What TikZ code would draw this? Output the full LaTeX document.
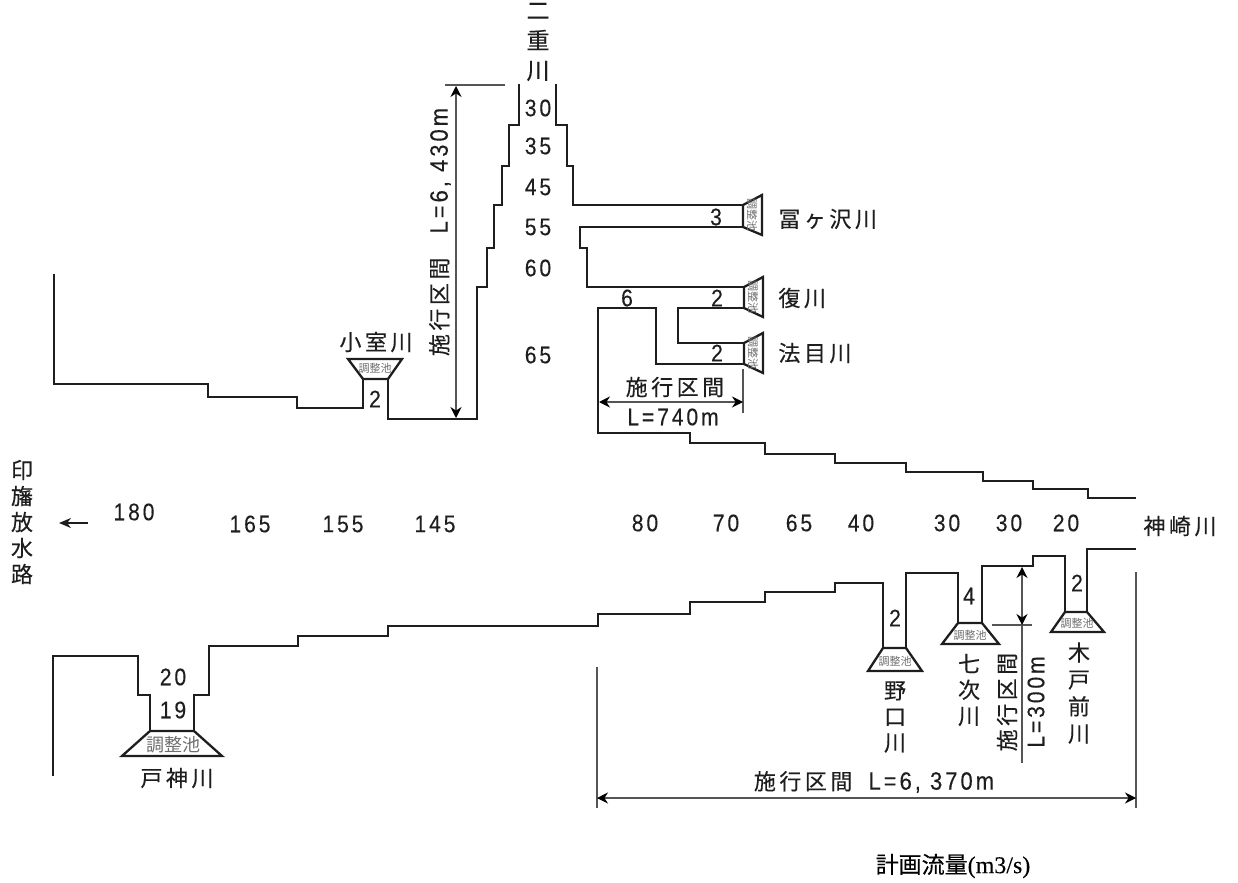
\documentclass[tikz,border=0pt]{standalone}
\usepackage{fontspec}
\usepackage{xcolor}
\usetikzlibrary{arrows.meta}
\setmainfont{Liberation Sans}
\newfontfamily\jpfont[LetterSpace=16,FakeBold=0.3]{Noto Sans CJK JP}
\newfontfamily\jpplain[FakeBold=0.3]{Noto Sans CJK JP}
\newfontfamily\jpthin{Noto Sans CJK JP}
\newfontfamily\numfont[LetterSpace=12,FakeStretch=0.88,FakeBold=0.2]{Liberation Sans}
\newfontfamily\serfont[FakeBold=0.2]{Liberation Serif}
\definecolor{dimgray}{RGB}{85,85,85}
\definecolor{pondgray}{RGB}{110,110,110}
\definecolor{inkblack}{RGB}{30,30,30}

\begin{document}
\begin{tikzpicture}[x=0.5pt,y=-0.5pt,
    bank/.style={draw=inkblack, line width=1.4pt, line join=miter},
    pond/.style={draw=inkblack, line width=1.15pt, line join=miter},
    dimline/.style={draw=dimgray, line width=0.6pt},
    dimarrow/.style={dimline, {Stealth[length=5.5pt,width=5.5pt,color=black]}-{Stealth[length=5.5pt,width=5.5pt,color=black]}},
    flowlabel/.style={font=\numfont\fontsize{12}{14}\selectfont, text=inkblack, inner sep=0pt},
    rivername/.style={font=\jpfont\fontsize{11}{13}\selectfont, text=inkblack, inner sep=0pt},
    stackname/.style={rivername, align=center},
    pondtext/.style={font=\jpthin\fontsize{5.5}{6}\selectfont, text=pondgray, inner sep=0pt}]
    \useasboundingbox (0,0) rectangle (1238,883);

    % Upper bank, left of the branch river
    \draw[bank] (54,274) -- (54,384) -- (208,384) -- (208,397) -- (297,397) -- (297,408) -- (363,408) -- (363,379);
    \draw[bank] (388,379) -- (388,419) -- (477,419) -- (477,287) -- (487,287) -- (487,248) -- (494,248) -- (494,205)
        -- (502,205) -- (502,166) -- (509,166) -- (509,125) -- (519,125) -- (519,84);

    % Upper bank, right of the branch river
    \draw[bank] (556,84) -- (556,125) -- (567,125) -- (567,166) -- (573,166) -- (573,205) -- (743,205);
    \draw[bank] (743,227) -- (580,227) -- (580,248) -- (587,248) -- (587,287) -- (744,287);
    \draw[bank] (744,308) -- (678,308) -- (678,343) -- (744,343);
    \draw[bank] (744,364) -- (656,364) -- (656,308) -- (598,308) -- (598,433) -- (690,433) -- (690,443) -- (765,443)
        -- (765,454) -- (835,454) -- (835,463) -- (906,463) -- (906,472) -- (983,472) -- (983,481) -- (1033,481)
        -- (1033,489) -- (1088,489) -- (1088,498) -- (1136,498);

    % Lower bank
    \draw[bank] (53,776) -- (53,656) -- (138,656) -- (138,695) -- (150,695) -- (150,731);
    \draw[bank] (194,731) -- (194,695) -- (209,695) -- (209,646) -- (298,646) -- (298,636) -- (388,636) -- (388,626)
        -- (598,626) -- (598,614) -- (690,614) -- (690,602) -- (765,602) -- (765,592) -- (835,592) -- (835,583)
        -- (883,583) -- (883,648);
    \draw[bank] (906,648) -- (906,573) -- (958,573) -- (958,623);
    \draw[bank] (982,623) -- (982,566) -- (1033,566) -- (1033,556) -- (1065,556) -- (1065,612);
    \draw[bank] (1087,612) -- (1087,549) -- (1136,549);

    % Retention ponds
    \draw[pond] (363,379) -- (388,379) -- (402,359) -- (348,359) -- cycle;
    \draw[pond] (743,205) -- (762,195) -- (762,235) -- (743,227) -- cycle;
    \draw[pond] (744,287) -- (763,277) -- (763,317) -- (744,308) -- cycle;
    \draw[pond] (744,343) -- (763,333) -- (763,373) -- (744,364) -- cycle;
    \draw[pond] (150,731) -- (194,731) -- (222,756) -- (122,756) -- cycle;
    \draw[pond] (883,648) -- (906,648) -- (922,671) -- (868,671) -- cycle;
    \draw[pond] (958,623) -- (982,623) -- (999,644) -- (942,644) -- cycle;
    \draw[pond] (1065,612) -- (1087,612) -- (1104,632) -- (1051,632) -- cycle;

    \node[pondtext] (pondOmuro) at (375,368) {調整池};
    \node[pondtext, rotate=-90] (pondTomi) at (752,215) {調整池};
    \node[pondtext, rotate=-90] (pondFuku) at (753,297) {調整池};
    \node[pondtext, rotate=-90] (pondHome) at (753,353) {調整池};
    \node[pondtext, font=\jpthin\fontsize{9}{10}\selectfont] (pondTogami) at (173,745) {調整池};
    \node[pondtext] (pondNoguchi) at (895,661) {調整池};
    \node[pondtext] (pondShichiji) at (970,635) {調整池};
    \node[pondtext] (pondKido) at (1077,623) {調整池};

    % Design flow along the channels
    \foreach \x/\y/\val in {538/108/30, 538/146/35, 538/187/45, 538/227/55, 538/268/60, 538/355/65,
        134/512/180, 250/524/165, 343/524/155, 435/524/145,
        645/523/80, 726/523/70, 799/523/65, 861/523/40, 947/523/30, 1009/523/30, 1066/523/20,
        173/677/20, 173/710/19} {
      \node[flowlabel] at (\x,\y) {\val};
    }
    \foreach \x/\y/\val in {716/217/3, 717/298/2, 627/298/6, 717/353/2, 375/399/2, 895/618/2, 969/596/4, 1077/583/2} {
      \node[flowlabel] at (\x,\y) {\val};
    }

    % River names
    \node[stackname, font=\jpplain\fontsize{11.5}{15}\selectfont] (nijyu) at (538,42) {二\\重\\川};
    \node[rivername, anchor=west] (tomi) at (778,219) {冨ヶ沢川};
    \node[rivername, anchor=west] (fuku) at (778,298) {復川};
    \node[rivername, anchor=west] (home) at (778,353) {法目川};
    \node[rivername] (omuro) at (376,342) {小室川};
    \node[rivername] (togami) at (177,778) {戸神川};
    \node[rivername] (kanzaki) at (1180,526) {神崎川};
    \node[stackname, font=\jpplain\fontsize{11}{13}\selectfont] (inba) at (22,522) {印\\旛\\放\\水\\路};
    \node[stackname, font=\jpplain\fontsize{11}{13}\selectfont] (noguchi) at (895,717) {野\\口\\川};
    \node[stackname, font=\jpplain\fontsize{11}{13}\selectfont] (shichiji) at (969,690) {七\\次\\川};
    \node[stackname, font=\jpplain\fontsize{11}{13.5}\selectfont] (kido) at (1079,693) {木\\戸\\前\\川};

    % Outflow arrow
    \coordinate (outA) at (88,523);
    \coordinate (outB) at (59,523);
    \draw[-{Stealth[length=6pt,width=5pt]}, line width=1pt, inkblack] (outA) -- (outB);

    % Work section L=6,430m
    \coordinate (tickA) at (445,85);
    \coordinate (tickB) at (505,85);
    \coordinate (spanA) at (456,86);
    \coordinate (spanB) at (456,418);
    \draw[dimline] (tickA) -- (tickB);
    \draw[dimarrow] (spanA) -- (spanB);
    \node[rivername, rotate=90] (workA) at (440,232) {施行区間\hspace{12pt}{\numfont\fontsize{12.5}{14}\selectfont L=6, 430m}};

    % Work section L=740m
    \coordinate (spanC) at (599,402);
    \coordinate (spanD) at (743,402);
    \coordinate (tickC) at (743,369);
    \coordinate (tickD) at (743,413);
    \draw[dimline] (tickC) -- (tickD);
    \draw[dimarrow] (spanC) -- (spanD);
    \node[rivername] (workB) at (675,387) {施行区間};
    \node[flowlabel] (workBlen) at (673,417) {L=740m};

    % Work section L=300m
    \coordinate (spanE) at (1022,567);
    \coordinate (spanF) at (1022,625);
    \coordinate (tickE) at (992,625);
    \coordinate (tickF) at (1032,625);
    \coordinate (tickG) at (1022,763);
    \draw[dimline] (tickE) -- (tickF);
    \draw[dimline] (spanF) -- (tickG);
    \draw[dimarrow] (spanE) -- (spanF);
    \node[rivername, rotate=90] (workC) at (1007,702) {施行区間};
    \node[flowlabel, rotate=90] (workClen) at (1036,702) {L=300m};

    % Work section L=6,370m
    \coordinate (edgeA) at (597,667);
    \coordinate (edgeB) at (597,808);
    \coordinate (edgeC) at (1136,572);
    \coordinate (edgeD) at (1136,808);
    \coordinate (spanG) at (597,798);
    \coordinate (spanH) at (1136,798);
    \draw[dimline] (edgeA) -- (edgeB);
    \draw[dimline] (edgeC) -- (edgeD);
    \draw[dimarrow] (spanG) -- (spanH);
    \node[rivername] (workD) at (874,782) {施行区間\hspace{8pt}{\numfont\fontsize{12.5}{14}\selectfont L=6, 370m}};

    % Caption
    \node[inner sep=0pt, text=black] (caption) at (953,866) {\jpplain\fontsize{11.5}{13}\selectfont 計画流量{\serfont\fontsize{12}{13}\selectfont (m3/s)}};
  \end{tikzpicture}
\end{document}
